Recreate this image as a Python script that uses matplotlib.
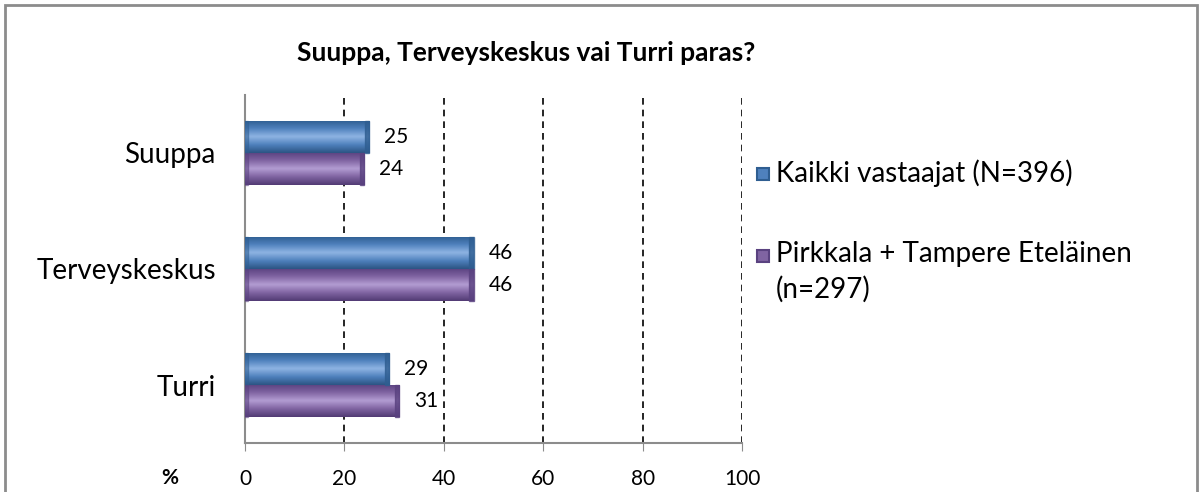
import matplotlib.pyplot as plt
import numpy as np
from matplotlib.patches import Rectangle
from matplotlib.colors import LinearSegmentedColormap

plt.rcParams['font.family'] = ['Lato', 'DejaVu Sans']

categories = ['Suuppa', 'Terveyskeskus', 'Turri']
kaikki = [25, 46, 29]
pirkkala = [24, 46, 31]
series_labels = ['Kaikki vastaajat (N=396)', 'Pirkkala + Tampere Eteläinen\n(n=297)']
xticks = [0, 20, 40, 60, 80, 100]

blue = ['#2f5e91', '#4f81bd', '#8fb4e3', '#4f81bd', '#2c5584']
purple = ['#5a4280', '#8064a2', '#b39dd3', '#8064a2', '#523b74']

W, H = 1202, 492
fig = plt.figure(figsize=(W / 100, H / 100), dpi=100)
ax = fig.add_axes([245 / W, 1 - 443 / H, (742 - 245) / W, (443 - 95) / H])

# outer frame
fig.patches.append(Rectangle((0.004, -0.1), 0.992, 1.09, transform=fig.transFigure,
                             fill=False, edgecolor='#8c8c8c', linewidth=2.0))

y = np.arange(len(categories))
h = 0.28


def bevel_bars(vals, offset, cols):
    cmap = LinearSegmentedColormap.from_list('c', cols)
    bars = ax.barh(y + offset, vals, height=h, color=cols[1], edgecolor='none', zorder=3)
    grad = np.linspace(0, 1, 64).reshape(-1, 1)
    for b in bars:
        x0, y0 = b.get_x(), b.get_y()
        w, hh = b.get_width(), b.get_height()
        im = ax.imshow(grad, cmap=cmap, aspect='auto', extent=[x0, x0 + w, y0 + hh, y0],
                       zorder=4, interpolation='bicubic')
        im.set_clip_path(b)
        # darker end caps for a 3D look
        ax.add_patch(Rectangle((x0 + w - 0.9, y0), 0.9, hh, color=cols[0], zorder=5, alpha=0.8))
        ax.add_patch(Rectangle((x0, y0), 0.6, hh, color=cols[0], zorder=5, alpha=0.5))
    return bars


bevel_bars(kaikki, -h / 2, blue)
bevel_bars(pirkkala, h / 2, purple)

for i in range(len(categories)):
    ax.text(kaikki[i] + 3, y[i] - h / 2, str(kaikki[i]), va='center', ha='left', fontsize=15)
    ax.text(pirkkala[i] + 3, y[i] + h / 2, str(pirkkala[i]), va='center', ha='left', fontsize=15)

ax.set_xlim(0, 100)
ax.set_ylim(2.5, -0.5)
ax.set_xticks(xticks)
ax.set_xticklabels([str(t) for t in xticks], fontsize=15)
ax.set_yticks(y)
ax.set_yticklabels(categories, fontsize=20)
ax.tick_params(axis='y', length=0, pad=21)
ax.tick_params(axis='x', length=6, color='#8c8c8c', pad=13)

for t in xticks[1:]:
    ax.axvline(t, color='black', linestyle=(0, (4, 3)), linewidth=1.2, zorder=1)

for s in ['top', 'right']:
    ax.spines[s].set_visible(False)
ax.spines['left'].set_color('#8c8c8c')
ax.spines['bottom'].set_color('#8c8c8c')
ax.spines['left'].set_linewidth(1.5)
ax.spines['bottom'].set_linewidth(1.5)

fig.text(526 / W, 1 - 53 / H, 'Suuppa, Terveyskeskus vai Turri paras?', ha='center',
         va='center', fontsize=19, fontweight='bold')
fig.text(170 / W, 1 - 478 / H, '%', ha='center', va='center', fontsize=15, fontweight='bold')

# legend drawn by hand so the marker sits on the first line of a wrapped label
leg_y = [174, 256]
for lab, cols, ly in zip(series_labels, [blue, purple], leg_y):
    fig.patches.append(Rectangle((757 / W, 1 - (ly + 6) / H), 12 / W, 12 / H,
                                 transform=fig.transFigure, facecolor=cols[1],
                                 edgecolor=cols[0], linewidth=1.5))
    fig.text(776 / W, 1 - (ly - 15) / H, lab, ha='left', va='top', fontsize=20,
             linespacing=1.4)

fig.savefig('out.png', dpi=100)
